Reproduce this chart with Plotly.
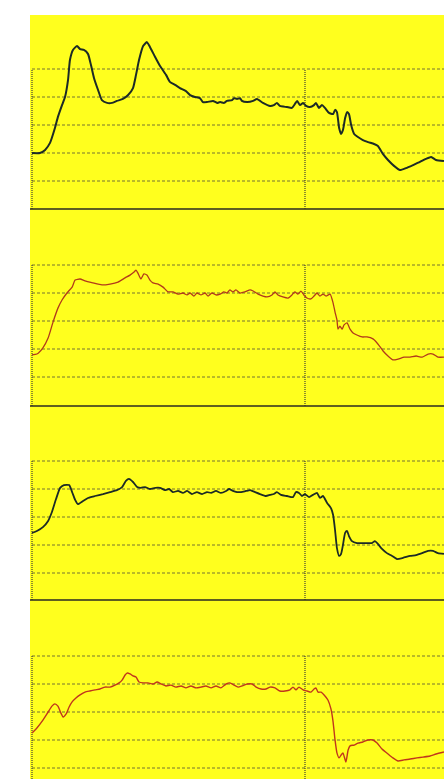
import plotly.graph_objects as go

# ---------------- data (time units, grid-division units) ----------------
t1 = [0, 0.29, 0.48, 0.66, 0.84, 0.95, 1.10, 1.21, 1.32, 1.39, 1.50, 1.65, 1.76, 1.90, 2.05, 2.16, 2.27, 2.42, 2.56,
      2.75, 2.93, 3.11, 3.33, 3.52, 3.70, 3.81, 3.92, 4.07, 4.21, 4.32, 4.51, 4.69, 4.91, 5.05, 5.24, 5.42, 5.64, 5.79,
      5.97, 6.15, 6.26, 6.41, 6.63, 6.78, 6.89, 7.03, 7.14, 7.33, 7.40, 7.51, 7.62, 7.69, 7.88, 8.10, 8.24, 8.46, 8.72,
      8.86, 8.97, 9.08, 9.34, 9.52, 9.63, 9.71, 9.82, 9.93, 10.04, 10.18, 10.33, 10.40, 10.51, 10.62, 10.73, 10.88,
      11.03, 11.10, 11.17, 11.25, 11.32, 11.39, 11.47, 11.54, 11.61, 11.69, 11.80, 11.94, 12.12, 12.31, 12.53, 12.67,
      12.86, 13.04, 13.26, 13.48, 13.70, 13.96, 14.21, 14.43, 14.62, 14.80, 15.09]
v1 = [2.0, 2.0, 2.11, 2.36, 2.89, 3.29, 3.71, 4.0, 4.61, 5.32, 5.68, 5.82, 5.71, 5.68, 5.54, 5.14, 4.68, 4.25, 3.89,
      3.79, 3.79, 3.86, 3.93, 4.07, 4.32, 4.79, 5.32, 5.82, 5.96, 5.79, 5.43, 5.11, 4.79, 4.54, 4.43, 4.32, 4.21, 4.07,
      4.0, 3.96, 3.82, 3.82, 3.86, 3.79, 3.82, 3.79, 3.86, 3.89, 3.96, 3.93, 3.96, 3.86, 3.82, 3.86, 3.93, 3.79, 3.68,
      3.71, 3.79, 3.68, 3.64, 3.61, 3.75, 3.86, 3.71, 3.79, 3.68, 3.64, 3.71, 3.79, 3.61, 3.71, 3.61, 3.43,
      3.39, 3.54, 3.46, 2.89, 2.68, 2.82, 3.25, 3.46, 3.39, 3.0, 2.68, 2.57, 2.46, 2.39, 2.32, 2.25,
      1.96, 1.75, 1.54, 1.39, 1.46, 1.57, 1.68, 1.79, 1.86, 1.75, 1.71]

t2 = [0, 0.18, 0.40, 0.59, 0.77, 0.95, 1.10, 1.28, 1.47, 1.58, 1.76, 1.94, 2.23, 2.56, 2.86, 3.15, 3.41, 3.59, 3.74,
      3.81, 3.88, 3.99, 4.10, 4.21, 4.32, 4.43, 4.62, 4.80, 4.98, 5.16, 5.35, 5.53, 5.68, 5.79, 5.93, 6.04, 6.19, 6.34,
      6.45, 6.59, 6.74, 6.89, 7.03, 7.14, 7.25, 7.36, 7.47, 7.62, 7.80, 7.99, 8.10, 8.28, 8.46, 8.61, 8.79, 8.90, 9.01,
      9.19, 9.38, 9.52, 9.63, 9.74, 9.85, 9.96, 10.07, 10.22, 10.33, 10.44, 10.55, 10.66, 10.77, 10.92, 11.03, 11.10,
      11.17, 11.21, 11.28, 11.36, 11.43, 11.54, 11.65, 11.76, 11.90, 12.09, 12.27, 12.49, 12.67, 12.86, 13.04, 13.22,
      13.41, 13.63, 13.85, 14.07, 14.29, 14.51, 14.69, 14.87, 15.09]
v2 = [1.79, 1.82, 2.04, 2.39, 2.96, 3.46, 3.75, 4.0, 4.21, 4.46, 4.5, 4.43, 4.36, 4.29, 4.32, 4.39, 4.54, 4.64, 4.75,
      4.82, 4.71, 4.5, 4.68, 4.64, 4.46, 4.36, 4.32, 4.21, 4.04, 4.04, 3.96, 4.0, 3.93, 4.0, 3.89, 4.0, 3.93, 4.0,
      3.89, 4.0, 3.93, 3.96, 4.04, 4.0, 4.11, 4.04, 4.11, 4.0, 4.04, 4.11, 4.07, 3.96, 3.89, 3.86, 3.93, 4.04, 3.93,
      3.86, 3.82, 3.93, 4.04, 3.96, 4.07, 3.93, 3.82, 3.79, 3.89, 4.0, 3.89, 3.96, 3.89, 3.96, 3.64, 3.32,
      3.04, 2.71, 2.82, 2.71, 2.86, 2.93, 2.71, 2.57, 2.5, 2.43, 2.43, 2.36, 2.18, 1.93, 1.75, 1.61,
      1.64, 1.71, 1.71, 1.75, 1.71, 1.82, 1.82, 1.71, 1.71]

t3 = [0, 0.18, 0.40, 0.59, 0.73, 0.88, 1.03, 1.17, 1.36, 1.47, 1.58, 1.68, 1.87, 2.05, 2.31, 2.60, 2.86, 3.11, 3.30,
      3.44, 3.55, 3.70, 3.85, 3.99, 4.14, 4.32, 4.51, 4.69, 4.87, 5.02, 5.16, 5.35, 5.53, 5.68, 5.86, 6.04, 6.23, 6.41,
      6.56, 6.74, 6.92, 7.11, 7.22, 7.36, 7.51, 7.66, 7.84, 7.99, 8.17, 8.35, 8.57, 8.72, 8.86, 8.97, 9.12, 9.34, 9.56,
      9.67, 9.78, 9.89, 10.0, 10.15, 10.29, 10.44, 10.55, 10.66, 10.81, 10.95, 11.03, 11.10, 11.17, 11.25, 11.32,
      11.39, 11.47, 11.54, 11.61, 11.72, 11.90, 12.09, 12.27, 12.45, 12.56, 12.67, 12.82, 13.0, 13.19, 13.37, 13.59,
      13.85, 14.07, 14.29, 14.51, 14.69, 14.87, 15.09]
v3 = [2.43, 2.5, 2.64, 2.86, 3.18, 3.64, 4.04, 4.14, 4.14, 3.89, 3.61, 3.46, 3.57, 3.68, 3.75, 3.82, 3.89, 3.96, 4.07,
      4.29, 4.36, 4.25, 4.07, 4.04, 4.07, 4.0, 4.04, 4.04, 3.96, 4.0, 3.89, 3.93, 3.86, 3.93, 3.82, 3.89, 3.82, 3.89,
      3.86, 3.93, 3.86, 3.93, 4.0, 3.93, 3.89, 3.89, 3.93, 3.96, 3.89, 3.82, 3.75, 3.79, 3.82, 3.89, 3.79, 3.75, 3.71,
      3.89, 3.86, 3.75, 3.82, 3.71, 3.79, 3.86, 3.68, 3.75, 3.5, 3.32, 3.07, 2.54, 1.89, 1.61, 1.68,
      2.0, 2.43, 2.5, 2.32, 2.14, 2.07, 2.07, 2.07, 2.07, 2.14, 2.04, 1.86, 1.71, 1.61, 1.5, 1.54,
      1.61, 1.64, 1.71, 1.79, 1.79, 1.71, 1.68]

t4 = [0, 0.18, 0.40, 0.59, 0.73, 0.84, 0.95, 1.06, 1.14, 1.25, 1.36, 1.47, 1.61, 1.76, 1.94, 2.12, 2.31, 2.49, 2.67,
      2.86, 3.04, 3.19, 3.30, 3.41, 3.48, 3.59, 3.70, 3.81, 3.92, 4.07, 4.25, 4.43, 4.58, 4.73, 4.91, 5.09, 5.27, 5.46,
      5.64, 5.82, 6.01, 6.19, 6.37, 6.56, 6.74, 6.92, 7.11, 7.25, 7.40, 7.55, 7.69, 7.88, 8.06, 8.21, 8.39, 8.57, 8.72,
      8.90, 9.08, 9.27, 9.45, 9.56, 9.67, 9.78, 9.93, 10.07, 10.22, 10.33, 10.40, 10.48, 10.59, 10.70, 10.84, 10.95,
      11.03, 11.10, 11.17, 11.25, 11.32, 11.39, 11.47, 11.50, 11.58, 11.65, 11.80, 11.94, 12.12, 12.31, 12.49, 12.64,
      12.82, 13.04, 13.22, 13.41, 13.63, 13.85, 14.10, 14.32, 14.58, 14.80, 15.09]
v4 = [2.25, 2.43, 2.71, 3.0, 3.21, 3.29, 3.21, 2.96, 2.82, 2.93, 3.18, 3.36, 3.5, 3.61, 3.71, 3.75, 3.79, 3.82, 3.89,
      3.89, 3.96, 4.04, 4.14, 4.32, 4.39, 4.36, 4.29, 4.25, 4.07, 4.04, 4.04, 4.0, 4.07, 4.0, 3.93, 3.96, 3.89, 3.93,
      3.86, 3.93, 3.86, 3.89, 3.93, 3.86, 3.93, 3.86, 4.0, 4.04, 3.96, 3.89, 3.93, 4.0, 4.0, 3.89, 3.82, 3.82, 3.89,
      3.86, 3.75, 3.75, 3.79, 3.89, 3.79, 3.89, 3.79, 3.75, 3.71, 3.82, 3.86, 3.71, 3.71, 3.61, 3.43, 3.11,
      2.64, 2.0, 1.54, 1.36, 1.46, 1.54, 1.29, 1.21, 1.64, 1.79, 1.82, 1.89, 1.93, 2.0, 2.0, 1.89,
      1.68, 1.5, 1.36, 1.25, 1.29, 1.32, 1.36, 1.39, 1.43, 1.5, 1.57]

grid_levels = [1, 2, 3, 4, 5]
marker_times = [0, 10]

# ---------------- layout ----------------
W, H = 444, 779
ML, MT = 30, 15
PLOT_H = H - MT
YELLOW = "#FFFF1E"

def frac(px):
    return (H - px) / PLOT_H

panels = [
    dict(top=15, grid=69, bot=209, t=t1, v=v1, color="#1c2a26", width=2.0),
    dict(top=209, grid=265, bot=406, t=t2, v=v2, color="#b23a1a", width=1.3),
    dict(top=406, grid=461, bot=600, t=t3, v=v3, color="#1c2a26", width=1.8),
    dict(top=600, grid=656, bot=779, t=t4, v=v4, color="#c0361c", width=1.4),
]
GRID_PX = 28.0
x0 = -2 / 27.3
x1 = 412 / 27.3

fig = go.Figure()
shapes = []
layout_axes = {}
for i, p in enumerate(panels):
    yname = "y" if i == 0 else f"y{i+1}"
    lname = "yaxis" if i == 0 else f"yaxis{i+1}"
    vtop = 5 + (p["grid"] - p["top"]) / GRID_PX
    vbot = 5 - (p["bot"] - p["grid"]) / GRID_PX
    layout_axes[lname] = dict(domain=[frac(p["bot"]), frac(p["top"])], range=[vbot, vtop],
                              showgrid=False, zeroline=False, showticklabels=False, ticks="",
                              fixedrange=True, anchor="x")
    fig.add_trace(go.Scatter(x=p["t"], y=p["v"], xaxis="x", yaxis=yname, mode="lines",
                             line=dict(color=p["color"], width=p["width"], shape="spline", smoothing=0.5),
                             showlegend=False, hoverinfo="skip"))
    for g in grid_levels:
        shapes.append(dict(type="line", xref="x", yref=yname, x0=0, x1=x1, y0=g, y1=g,
                           line=dict(color="rgba(70,70,60,0.75)", width=1, dash="3px,2px"), layer="below"))
    for mt in marker_times:
        shapes.append(dict(type="line", xref="x", yref=yname, x0=mt, x1=mt, y0=vbot, y1=5,
                           line=dict(color="rgba(50,50,50,0.85)", width=1.3, dash="1px,1px"), layer="below"))
    if i > 0:
        shapes.append(dict(type="line", xref="paper", yref="paper", x0=0, x1=1,
                           y0=frac(p["top"]), y1=frac(p["top"]),
                           line=dict(color="#2a2a22", width=1.6), layer="above"))

shapes.insert(0, dict(type="rect", xref="paper", yref="paper", x0=0, x1=1, y0=0, y1=1,
                      fillcolor=YELLOW, line=dict(width=0), layer="below"))

fig.update_layout(
    width=W, height=H,
    margin=dict(l=ML, r=0, t=MT, b=0, pad=0),
    paper_bgcolor="white", plot_bgcolor="rgba(0,0,0,0)",
    xaxis=dict(range=[x0, x1], showgrid=False, zeroline=False, showticklabels=False, ticks="",
               fixedrange=True, anchor="y4"),
    shapes=shapes,
    showlegend=False,
    **layout_axes,
)

fig.write_html("out.html", config={"displayModeBar": False})
